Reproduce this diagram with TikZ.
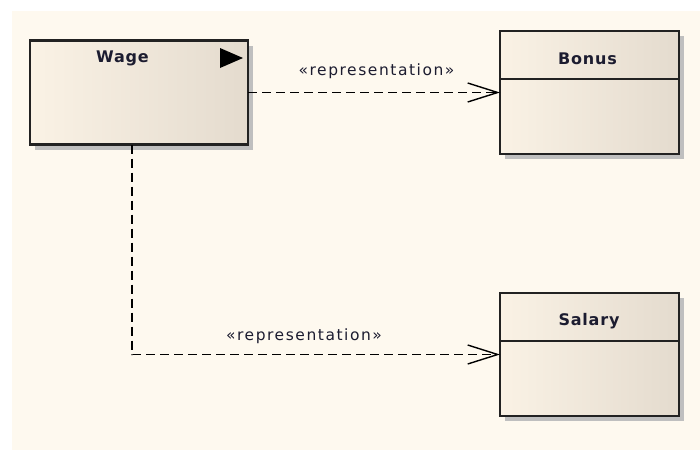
\documentclass[tikz,border=0pt]{standalone}
\usepackage{fontspec}
\setmainfont{DejaVu Sans}
\newfontfamily\titlefont[LetterSpace=5]{DejaVu Sans Bold}
\newfontfamily\labelfont[LetterSpace=10]{DejaVu Sans}
\usetikzlibrary{arrows.meta,shadows}
\definecolor{bgcream}{HTML}{FEF9EF}
\definecolor{boxleft}{HTML}{FAF2E5}
\definecolor{boxright}{HTML}{E4DBCE}
\definecolor{edge}{HTML}{222222}
\definecolor{shadowgray}{HTML}{BFBFBF}
\definecolor{txt}{HTML}{1C1C30}
\begin{document}
\begin{tikzpicture}[x=1pt,y=-1pt,
  umlbox/.style={draw=edge, line width=2.2pt, shading=axis, left color=boxleft, right color=boxright,
    general shadow={fill=shadowgray, shadow xshift=5pt, shadow yshift=-5pt},
    inner sep=0pt, outer sep=0pt},
  titletext/.style={font=\titlefont\fontsize{16}{19}\selectfont, text=txt, anchor=base, inner sep=0pt},
  stereo/.style={font=\labelfont\fontsize{15.5}{18}\selectfont, text=txt, anchor=base, inner sep=0pt},
  divider/.style={draw=edge, line width=1.8pt},
  realize/.style={draw=black, line width=1.6pt, dash pattern=on 9pt off 5pt,
    -{Straight Barb[length=30pt,width=19pt,line width=1.4pt]}}
]
\useasboundingbox (0,0) rectangle (700,450);
\fill[white] (0,0) rectangle (700,450);
\fill[bgcream] (12,11) rectangle (700,450);

% boxes
\node[umlbox, minimum width=218pt, minimum height=104pt] (wage) at (139,92.5) {};
\node[umlbox, minimum width=179pt, minimum height=123pt] (bonus) at (589.5,92.5) {};
\node[umlbox, minimum width=179pt, minimum height=123pt] (salary) at (589.5,354.5) {};

% titles
\node[titletext] (wagetitle) at (122.5,62) {Wage};
\node[titletext] (bonustitle) at (587.5,64) {Bonus};
\node[titletext] (salarytitle) at (589,325) {Salary};

% dividers
\coordinate (bdl) at ([yshift=-48pt]bonus.north west);
\coordinate (bdr) at ([yshift=-48pt]bonus.north east);
\draw[divider] (bdl) -- (bdr);
\coordinate (sdl) at ([yshift=-48pt]salary.north west);
\coordinate (sdr) at ([yshift=-48pt]salary.north east);
\draw[divider] (sdl) -- (sdr);

% active class marker
\fill[black] (220,48) -- (243,58) -- (220,68) -- cycle;

% connectors
\draw[realize] (wage.east) -- (bonus.west);
\coordinate (wsouth) at ([xshift=102pt]wage.south west);
\draw[realize] (wsouth) |- (salary.west);

% labels
\node[stereo] (lab1) at (376.5,75) {«representation»};
\node[stereo] (lab2) at (304,340) {«representation»};
\end{tikzpicture}
\end{document}
